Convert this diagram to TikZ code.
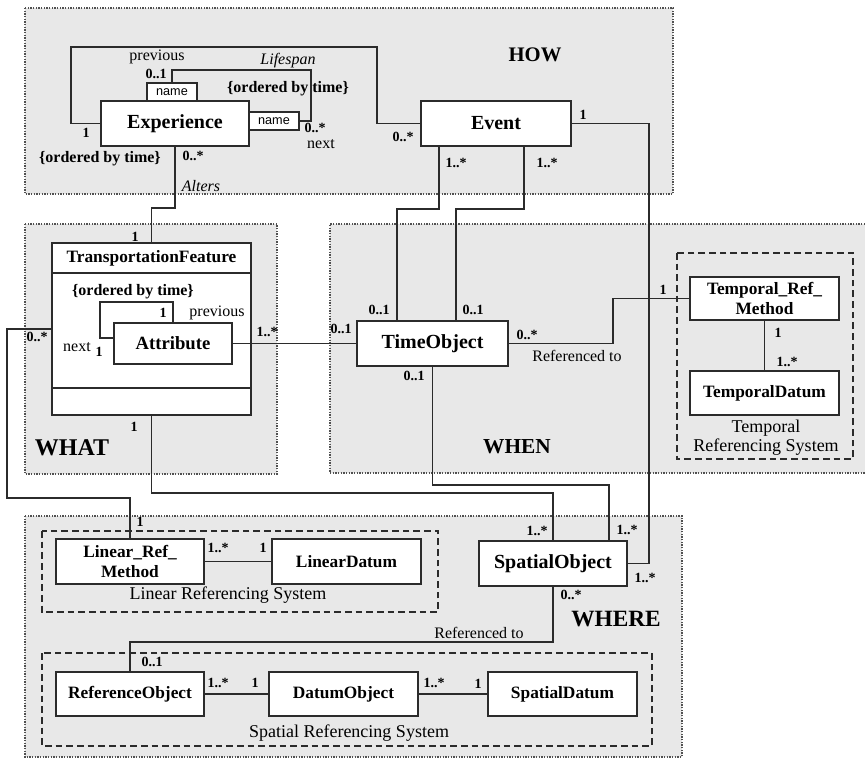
\documentclass[tikz,border=0pt]{standalone}
\usepackage{fontspec}
\setmainfont{Liberation Serif}
\newfontfamily\namefont{Liberation Sans}
\definecolor{regfill}{HTML}{E8E8E8}
\definecolor{ink}{HTML}{2B2B2B}
\definecolor{dotc}{HTML}{505050}
\begin{document}
\begin{tikzpicture}[x=0.75pt,y=-0.75pt,
  region/.style={fill=regfill, draw=dotc, line width=1pt, dash pattern=on 1pt off 1pt},
  regionline/.style={draw=dotc, line width=1pt, dash pattern=on 1pt off 1pt},
  subsys/.style={draw=ink, line width=1.2pt, dash pattern=on 5pt off 3pt},
  cls/.style 2 args={draw=ink, fill=white, line width=1.5pt, minimum width=#1*0.75pt, minimum height=#2*0.75pt, inner sep=0pt, align=center, font=\bfseries\fontsize{13}{15}\selectfont},
  big/.style={font=\bfseries\fontsize{15}{17}\selectfont},
  namebox/.style={draw=ink, fill=white, line width=1.2pt, minimum width=37.5pt, minimum height=13.5pt, inner sep=0pt, font=\namefont\fontsize{9.5}{11}\selectfont},
  conn/.style={draw=ink, line width=1.35pt},
  mult/.style={inner sep=0pt, font=\bfseries\fontsize{10.5}{12}\selectfont},
  lbl/.style={inner sep=0pt, font=\fontsize{12}{14}\selectfont},
  bl/.style={inner sep=0pt, font=\bfseries\fontsize{12}{14}\selectfont},
  il/.style={inner sep=0pt, font=\itshape\fontsize{12}{14}\selectfont},
  zone/.style={inner sep=0pt, font=\bfseries\fontsize{#1}{#1}\selectfont},
  sysl/.style={inner sep=0pt, align=center, font=\fontsize{13.5}{14.5}\selectfont}
]
\useasboundingbox (0,0) rectangle (865,760);
\fill[white] (0,0) rectangle (865,760);

% regions
\path[region] (25,8) rectangle (673,194);
\path[region] (25,224) rectangle (277,474);
\fill[regfill] (330,224) rectangle (865,473);
\draw[regionline] (865,224) -- (330,224) -- (330,473) -- (865,473);
\path[region] (25,516) rectangle (682,757);

% subsystems
\draw[subsys] (677,253) rectangle (853,459);
\draw[subsys] (42,531) rectangle (438,612);
\draw[subsys] (42,653) rectangle (652,746);

% zone labels
\node[zone=15.5] (how) at (535,55) {HOW};
\node[zone=18] (what) at (72,448) {WHAT};
\node[zone=16] (when) at (517,447) {WHEN};
\node[zone=17.5] (where) at (616,619) {WHERE};

% classes
\node[cls={148}{45}, big] (exp) at (175,123.5) {Experience};
\node[namebox] (nm1) at (172,92) {name};
\node[namebox] (nm2) at (274,121) {name};
\node[cls={150}{45}, big] (event) at (496,123.5) {Event};
\node[cls={199}{172}] (tf) at (151.5,329) {};
\node[inner sep=0pt, font=\bfseries\fontsize{13}{15}\selectfont] (tft) at (151.5,258) {TransportationFeature};
\draw[ink, line width=1.5pt] (tf.west |- 0,273) -- (tf.east |- 0,273);
\draw[ink, line width=1.5pt] (tf.west |- 0,388) -- (tf.east |- 0,388);
\node[cls={118}{41}, font=\bfseries\fontsize{14}{16}\selectfont] (attr) at (173,343.5) {Attribute};
\node[cls={151}{45}, big] (time) at (432.5,343.5) {TimeObject};
\node[cls={149}{43}] (trm) at (764.5,298.5) {Temporal\_Ref\_\\Method};
\node[cls={149}{44}] (td) at (764.5,393) {TemporalDatum};
\node[cls={148}{45}, big] (spatial) at (553,563.5) {SpatialObject};
\node[cls={148}{45}] (lrm) at (130,561.5) {Linear\_Ref\_\\Method};
\node[cls={149}{45}] (ld) at (346.5,561.5) {LinearDatum};
\node[cls={148}{44}] (ro) at (130,694) {ReferenceObject};
\node[cls={149}{44}] (dob) at (343.5,694) {DatumObject};
\node[cls={149}{44}] (sd) at (562.5,694) {SpatialDatum};

% connectors
\draw[conn] (nm1.north) |- (311,70) |- (nm2.east);
\draw[conn] (exp.west) -| (71,47) -| (377,123.5) -- (event.west);
\draw[conn] (exp.south) -- (exp.south |- 0,208) -| (tf.north);
\draw[conn] (event.south -| 439,0) |- (397,209) -- (time.north -| 397,0);
\draw[conn] (event.south -| 524,0) |- (456,209) -- (time.north -| 456,0);
\draw[conn] (event.east) -| (649,563.5) -- (spatial.east);
\draw[conn] (tf.west) -| (7,498) -| (lrm.north);
\draw[conn] (tf.south) |- (553,493) -- (spatial.north);
\draw[conn] (time.south) |- (609,485) -- (spatial.north -| 609,0);
\draw[conn] (attr.east) -- (time.west);
\draw[conn] (attr.north) |- (100,302) |- ([yshift=4pt]attr.west);
\draw[conn] (time.east) -| (613,298.5) -- (trm.west);
\draw[conn] (trm.south) -- (td.north);
\draw[conn] (lrm.east) -- (ld.west);
\draw[conn] (spatial.south) |- (130,642) -- (ro.north);
\draw[conn] (ro.east) -- (dob.west);
\draw[conn] (dob.east) -- (sd.west);

% HOW labels
\node[lbl] (l1) at (157,57) {previous};
\node[mult] (l2) at (156,74) {0..1};
\node[il] (l3) at (288,61) {Lifespan};
\node[bl] (l4) at (288,89) {\{ordered by time\}};
\node[mult] (l5) at (315,128) {0..*};
\node[lbl] (l6) at (321,144) {next};
\node[mult] (l7) at (86,133) {1};
\node[bl] (l8) at (100,159) {\{ordered by time\}};
\node[mult] (l9) at (193,156) {0..*};
\node[il] (l10) at (201,186) {Alters};
\node[mult] (l11) at (403,137) {0..*};
\node[mult] (l12) at (583,115) {1};
\node[mult] (l13) at (456,163) {1..*};
\node[mult] (l14) at (547,163) {1..*};

% WHAT labels
\node[mult] (l15) at (135,237) {1};
\node[bl] (l16) at (133,292) {\{ordered by time\}};
\node[mult] (l17) at (163,313) {1};
\node[lbl] (l18) at (217,313) {previous};
\node[lbl] (l19) at (77,347) {next};
\node[mult] (l20) at (99,352) {1};
\node[mult] (l21) at (37,337) {0..*};
\node[mult] (l22) at (267,332) {1..*};
\node[mult] (l23) at (134,427) {1};

% WHEN labels
\node[mult] (l24) at (341,329) {0..1};
\node[mult] (l25) at (379,310) {0..1};
\node[mult] (l26) at (473,310) {0..1};
\node[mult] (l27) at (527,335) {0..*};
\node[lbl] (l28) at (577,356) {Referenced to};
\node[mult] (l29) at (414,376) {0..1};
\node[mult] (l30) at (663,290) {1};
\node[mult] (l31) at (778,333) {1};
\node[mult] (l32) at (787,362) {1..*};
\node[sysl] (l33) at (766,438) {Temporal\\Referencing System};

% WHERE labels
\node[mult] (l34) at (140,522) {1};
\node[mult] (l35) at (218,548) {1..*};
\node[mult] (l36) at (263,548) {1};
\node[sysl] (l37) at (228,595) {Linear Referencing System};
\node[mult] (l38) at (152,662) {0..1};
\node[mult] (l39) at (218,683) {1..*};
\node[mult] (l40) at (255,683) {1};
\node[mult] (l41) at (434,683) {1..*};
\node[mult] (l42) at (478,684) {1};
\node[sysl] (l43) at (349,733) {Spatial Referencing System};
\node[lbl] (l44) at (479,633) {Referenced to};
\node[mult] (l45) at (537,531) {1..*};
\node[mult] (l46) at (627,530) {1..*};
\node[mult] (l47) at (645,578) {1..*};
\node[mult] (l48) at (571,595) {0..*};
\end{tikzpicture}
\end{document}
